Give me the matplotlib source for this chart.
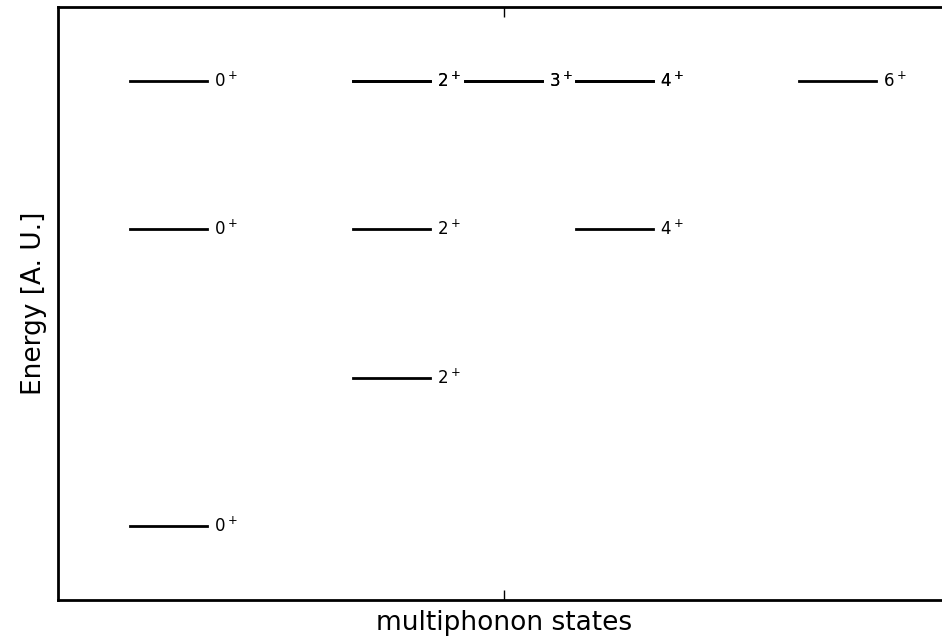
import matplotlib
matplotlib.use("Agg")
import matplotlib.pyplot as plt

# (phonon number, spin) of each level; some triple-phonon states appear twice
phonons = [0, 1, 2, 2, 2, 3, 3, 3, 3, 3, 3, 3, 3]
spins = [0, 2, 0, 2, 4, 0, 2, 2, 3, 3, 4, 4, 6]


def main():
    fig = plt.figure(figsize=(9.42, 6.36), dpi=100)
    ax = fig.add_axes([58 / 942, 36 / 636, 892 / 942, 593 / 636])

    for n, j in zip(phonons, spins):
        ax.plot([j + 0.65, j + 1.34], [n, n], color="black", linewidth=2)
        ax.text(j + 1.4, n, f"${j}^+$", fontsize=12, va="center", ha="left")

    ax.set_xlim(0, 8)
    ax.set_ylim(-0.5, 3.5)
    ax.set_xticks([4])
    ax.set_xticklabels([])
    ax.set_yticks([])
    ax.tick_params(axis="x", direction="in", length=7, width=1, top=True)
    for sp in ax.spines.values():
        sp.set_linewidth(2)
    ax.set_xlabel("multiphonon states", fontsize=19, labelpad=4)
    ax.set_ylabel("Energy [A. U.]", fontsize=19, labelpad=8)

    fig.savefig("out.png", dpi=100)


if __name__ == "__main__":
    main()
